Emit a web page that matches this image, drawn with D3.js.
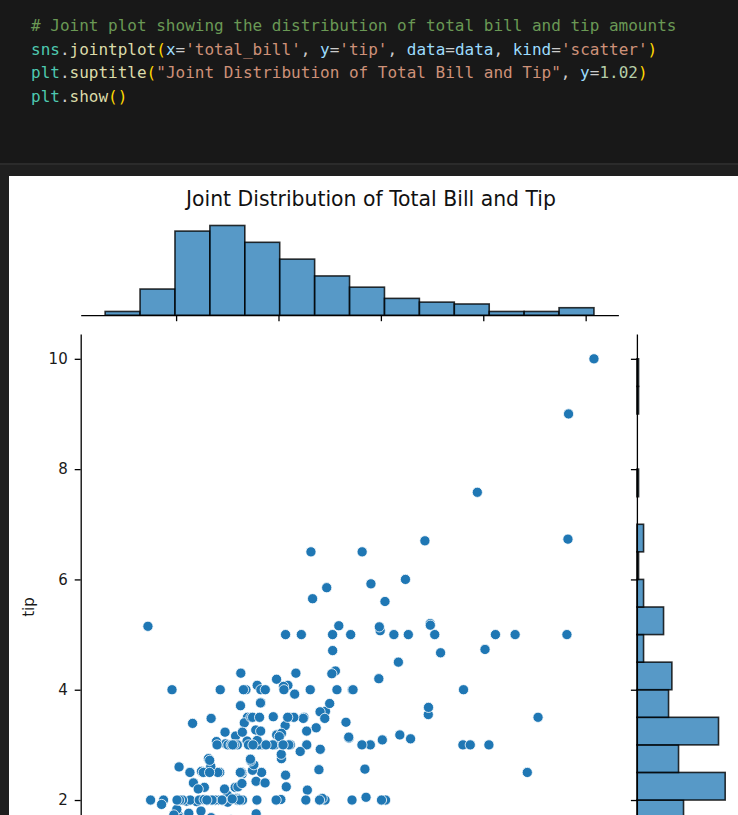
<!DOCTYPE html>
<html>
<head>
<meta charset="utf-8">
<script src="https://cdn.jsdelivr.net/npm/d3@7"></script>
<style>
  body { margin: 0; background: #1f1f1f; }
  svg { display: block; }
</style>
</head>
<body>
<div id="svg-container"></div>
<script>
// tips dataset: total_bill and tip, in row order
const totalBill = [16.99,10.34,21.01,23.68,24.59,25.29,8.77,26.88,15.04,14.78,
  10.27,35.26,15.42,18.43,14.83,21.58,10.33,16.29,16.97,20.65,
  17.92,20.29,15.77,39.42,19.82,17.81,13.37,12.69,21.7,19.65,
  9.55,18.35,15.06,20.69,17.78,24.06,16.31,16.93,18.69,31.27,
  16.04,17.46,13.94,9.68,30.4,18.29,22.23,32.4,28.55,18.04,
  12.54,10.29,34.81,9.94,25.56,19.49,38.01,26.41,11.24,48.27,
  20.29,13.81,11.02,18.29,17.59,20.08,16.45,3.07,20.23,15.01,
  12.02,17.07,26.86,25.28,14.73,10.51,17.92,27.2,22.76,17.29,
  19.44,16.66,10.07,32.68,15.98,34.83,13.03,18.28,24.71,21.16,
  28.97,22.49,5.75,16.32,22.75,40.17,27.28,12.03,21.01,12.46,
  11.35,15.38,44.3,22.42,20.92,15.36,20.49,25.21,18.24,14.31,
  14.0,7.25,38.07,23.95,25.71,17.31,29.93,10.65,12.43,24.08,
  11.69,13.42,14.26,15.95,12.48,29.8,8.52,14.52,11.38,22.82,
  19.08,20.27,11.17,12.26,18.26,8.51,10.33,14.15,16.0,13.16,
  17.47,34.3,41.19,27.05,16.43,8.35,18.64,11.87,9.78,7.51,
  14.07,13.13,17.26,24.55,19.77,29.85,48.17,25.0,13.39,16.49,
  21.5,12.66,16.21,13.81,17.51,24.52,20.76,31.71,10.59,10.63,
  50.81,15.81,7.25,31.85,16.82,32.9,17.89,14.48,9.6,34.63,
  34.65,23.33,45.35,23.17,40.55,20.69,20.9,30.46,18.15,23.1,
  15.69,19.81,28.44,15.48,16.58,7.56,10.34,43.11,13.0,13.51,
  18.71,12.74,13.0,16.4,20.53,16.47,26.59,38.73,24.27,12.76,
  30.06,25.89,48.33,13.27,28.17,12.9,28.15,11.59,7.74,30.14,
  12.16,13.42,8.58,15.98,13.42,16.27,10.09,20.45,13.28,22.12,
  24.01,15.69,11.61,10.77,15.53,10.07,12.6,32.83,35.83,29.03,
  27.18,22.67,17.82,18.78];

const tip = [1.01,1.66,3.5,3.31,3.61,4.71,2.0,3.12,1.96,3.23,
  1.71,5.0,1.57,3.0,3.02,3.92,1.67,3.71,3.5,3.35,
  4.08,2.75,2.23,7.58,3.18,2.34,2.0,2.0,4.3,3.0,
  1.45,2.5,3.0,2.45,3.27,3.6,2.0,3.07,2.31,5.0,
  2.24,2.54,3.06,1.32,5.6,3.0,5.0,6.0,2.05,3.0,
  2.5,2.6,5.2,1.56,4.34,3.51,3.0,1.5,1.76,6.73,
  3.21,2.0,1.98,3.76,2.64,3.15,2.47,1.0,2.01,2.09,
  1.97,3.0,3.14,5.0,2.2,1.25,3.08,4.0,3.0,2.71,
  3.0,3.4,1.83,5.0,2.03,5.17,2.0,4.0,5.85,3.0,
  3.0,3.5,1.0,4.3,3.25,4.73,4.0,1.5,3.0,1.5,
  2.5,3.0,2.5,3.48,4.08,1.64,4.06,4.29,3.76,4.0,
  3.0,1.0,4.0,2.55,4.0,3.5,5.07,1.5,1.8,2.92,
  2.31,1.68,2.5,2.0,2.52,4.2,1.48,2.0,2.0,2.18,
  1.5,2.83,1.5,2.0,3.25,1.25,2.0,2.0,2.0,2.75,
  3.5,6.7,5.0,5.0,2.3,1.5,1.36,1.63,1.73,2.0,
  2.5,2.0,2.74,2.0,2.0,5.14,5.0,3.75,2.61,2.0,
  3.5,2.5,2.0,2.0,3.0,3.48,2.24,4.5,1.61,2.0,
  10.0,3.16,5.15,3.18,4.0,3.11,2.0,2.0,4.0,3.55,
  3.68,5.65,3.5,6.5,3.0,5.0,3.5,2.0,3.5,4.0,
  1.5,4.19,2.56,2.02,4.0,1.44,2.0,5.0,2.0,2.0,
  4.0,2.01,2.0,2.5,4.0,3.23,3.41,3.0,2.03,2.23,
  2.0,5.16,9.0,2.5,6.5,1.1,3.0,1.5,1.44,3.09,
  2.2,3.48,1.92,3.0,1.58,2.5,2.0,3.0,2.72,2.88,
  2.0,3.0,3.39,1.47,3.0,1.25,1.0,1.17,4.67,5.92,
  2.0,2.0,1.75,3.0];

const xTicks = [10, 20, 30, 40, 50];
const yTicks = [2, 4, 6, 8, 10];
const xBins = 14;
const yBins = 18;

const title = "Joint Distribution of Total Bill and Tip";
const yLabel = "tip";

// code cell, token by token
const codeLines = [
    [["# Joint plot showing the distribution of total bill and tip amounts", "comment"]],
    [["sns", "mod"], [".", "punct"], ["jointplot", "fn"], ["(", "paren"],
     ["x", "param"], ["=", "punct"], ["'total_bill'", "str"], [", ", "punct"],
     ["y", "param"], ["=", "punct"], ["'tip'", "str"], [", ", "punct"],
     ["data", "param"], ["=", "punct"], ["data", "param"], [", ", "punct"],
     ["kind", "param"], ["=", "punct"], ["'scatter'", "str"], [")", "paren"]],
    [["plt", "mod"], [".", "punct"], ["suptitle", "fn"], ["(", "paren"],
     ["\"Joint Distribution of Total Bill and Tip\"", "str"], [", ", "punct"],
     ["y", "param"], ["=", "punct"], ["1.02", "num"], [")", "paren"]],
    [["plt", "mod"], [".", "punct"], ["show", "fn"], ["()", "paren"]]
];
const tokenColor = {
    comment: "#6a9955", mod: "#4ec9b0", fn: "#dcdcaa", paren: "#ffd700",
    param: "#9cdcfe", str: "#ce9178", num: "#b5cea8", punct: "#cccccc"
};

const width = 738, height = 815;
const blue = "#1f77b4";

const svg = d3.select("#svg-container")
    .append("svg")
    .attr("width", width)
    .attr("height", height);

// editor background
svg.append("rect")
    .attr("width", width)
    .attr("height", 164)
    .attr("fill", "#181818");
svg.append("rect")
    .attr("y", 164)
    .attr("width", width)
    .attr("height", height - 164)
    .attr("fill", "#1f1f1f");
svg.append("line")
    .attr("x1", 0).attr("x2", width)
    .attr("y1", 164).attr("y2", 164)
    .attr("stroke", "#2b2b2b")
    .attr("stroke-width", 2);

const code = svg.append("g")
    .attr("font-family", "'DejaVu Sans Mono', 'Liberation Mono', monospace")
    .attr("font-size", 16);

codeLines.forEach((tokens, i) => {
    const t = code.append("text")
        .attr("x", 31)
        .attr("y", 31 + i * 23.6)
        .style("white-space", "pre");
    tokens.forEach(d => {
        t.append("tspan")
            .attr("fill", tokenColor[d[1]])
            .text(d[0]);
    });
});

// figure area
svg.append("rect")
    .attr("x", 9)
    .attr("y", 176)
    .attr("width", width - 9)
    .attr("height", height - 176)
    .attr("fill", "white");

// layout of the joint grid (main axes runs past the bottom edge)
const main = {left: 80.7, right: 618.4, top: 334, bottom: 880};
const topM = {top: 221, bottom: 315.2};
const rightM = {left: 636.9, right: 729.6};

const points = totalBill.map((v, i) => ({x: v, y: tip[i]}));

const xExt = d3.extent(totalBill);
const yExt = d3.extent(tip);
const xPad = (xExt[1] - xExt[0]) * 0.05;
const yPad = (yExt[1] - yExt[0]) * 0.05;

const x = d3.scaleLinear()
    .domain([xExt[0] - xPad, xExt[1] + xPad])
    .range([main.left, main.right]);

const y = d3.scaleLinear()
    .domain([yExt[0] - yPad, yExt[1] + yPad])
    .range([main.bottom, main.top]);

function edges(ext, n) {
    return d3.range(1, n).map(i => ext[0] + i * (ext[1] - ext[0]) / n);
}

const xHist = d3.bin()
    .domain(xExt)
    .thresholds(edges(xExt, xBins))(totalBill);

const yHist = d3.bin()
    .domain(yExt)
    .thresholds(edges(yExt, yBins))(tip);

const hTop = d3.scaleLinear()
    .domain([0, d3.max(xHist, d => d.length) * 1.05])
    .range([topM.bottom, topM.top]);

const hRight = d3.scaleLinear()
    .domain([0, d3.max(yHist, d => d.length) * 1.05])
    .range([rightM.left, rightM.right]);

const tickFont = "'DejaVu Sans', sans-serif";

function styleAxis(g) {
    g.select(".domain").attr("stroke", "#000").attr("stroke-width", 1.3);
    g.selectAll(".tick line").attr("stroke", "#000").attr("stroke-width", 1.3);
    g.selectAll(".tick text")
        .attr("fill", "#1a1a1a")
        .attr("font-family", tickFont)
        .attr("font-size", 15);
}

// top marginal histogram
svg.append("g")
    .selectAll("rect")
    .data(xHist)
    .join("rect")
    .attr("x", d => x(d.x0))
    .attr("y", d => hTop(d.length))
    .attr("width", d => x(d.x1) - x(d.x0))
    .attr("height", d => hTop(0) - hTop(d.length))
    .attr("fill", blue)
    .attr("fill-opacity", 0.75)
    .attr("stroke", "#000")
    .attr("stroke-opacity", 0.8)
    .attr("stroke-width", 1.6);

svg.append("g")
    .attr("transform", `translate(0, ${topM.bottom})`)
    .call(d3.axisBottom(x).tickValues(xTicks).tickFormat("").tickSize(6).tickSizeOuter(0))
    .call(styleAxis);

// right marginal histogram
svg.append("g")
    .selectAll("rect")
    .data(yHist)
    .join("rect")
    .attr("x", hRight(0))
    .attr("y", d => y(d.x1))
    .attr("width", d => hRight(d.length) - hRight(0))
    .attr("height", d => y(d.x0) - y(d.x1))
    .attr("fill", blue)
    .attr("fill-opacity", 0.75)
    .attr("stroke", "#000")
    .attr("stroke-opacity", 0.8)
    .attr("stroke-width", 1.6);

svg.append("g")
    .attr("transform", `translate(${rightM.left}, 0)`)
    .call(d3.axisLeft(y).tickValues(yTicks).tickFormat("").tickSize(6).tickSizeOuter(0))
    .call(styleAxis);

// scatter
svg.append("g")
    .selectAll("circle")
    .data(points)
    .join("circle")
    .attr("cx", d => x(d.x))
    .attr("cy", d => y(d.y))
    .attr("r", 5.1)
    .attr("fill", blue)
    .attr("stroke", "white")
    .attr("stroke-width", 0.8);

// main y axis (x axis sits below the visible area)
svg.append("g")
    .attr("transform", `translate(${main.left}, 0)`)
    .call(d3.axisLeft(y).tickValues(yTicks).tickSize(6).tickPadding(7).tickSizeOuter(0))
    .call(styleAxis);

svg.append("text")
    .attr("transform", `translate(34, ${(main.top + main.bottom) / 2}) rotate(-90)`)
    .attr("text-anchor", "middle")
    .attr("font-family", tickFont)
    .attr("font-size", 15)
    .attr("fill", "#1a1a1a")
    .text(yLabel);

// suptitle
svg.append("text")
    .attr("x", 371)
    .attr("y", 206)
    .attr("text-anchor", "middle")
    .attr("font-family", tickFont)
    .attr("font-size", 20.4)
    .attr("fill", "#111")
    .text(title);
</script>
</body>
</html>
